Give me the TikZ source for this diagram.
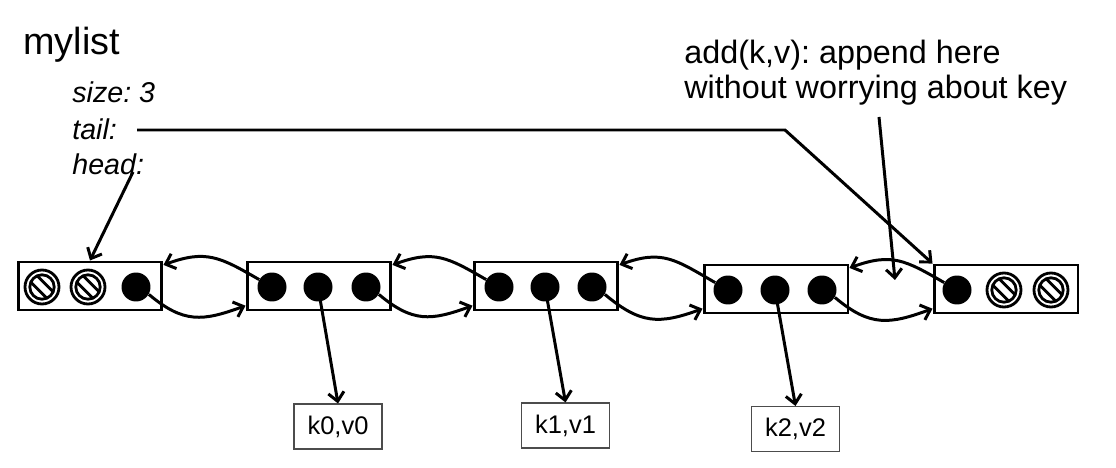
\documentclass[tikz,border=0pt]{standalone}
\usepackage{fontspec}
\setmainfont{Liberation Sans}
\usetikzlibrary{arrows.meta}
\frenchspacing

\begin{document}
\begin{tikzpicture}[x=0.02cm,y=0.02cm,
  cell/.style={draw,line width=1.7pt,minimum width=2.88cm,minimum height=0.96cm,inner sep=0pt},
  ptr/.style={circle,fill,inner sep=0pt,minimum size=0.58cm},
  kv/.style={draw=black!70,line width=0.6pt,minimum width=1.76cm,minimum height=0.9cm,font=\fontsize{14.5}{17}\selectfont},
  link/.style={line width=1.7pt,-{Straight Barb[length=5pt,width=9pt]}},
  lbl/.style={anchor=base west,inner sep=0pt,font=\fontsize{16.3}{20}\selectfont\itshape}]
  \useasboundingbox (0,0) rectangle (1116,467);
  % header
  \node[anchor=base west,inner sep=0pt,font=\fontsize{21.5}{26}\selectfont] (title) at (23,412) {mylist};
  \node[lbl] (sizel) at (72,364) {size: 3};
  \node[lbl] (taill) at (72,327) {tail:};
  \node[lbl] (headl) at (72,292) {head:};
  \node[anchor=north west,align=left,inner sep=0pt,font=\fontsize{18.4}{19.9}\selectfont] (note) at (684,427) {add(k,v): append here\\without worrying about key};
  % list cells
  \node[cell] (c0) at (90,181) {};
  \node[cell] (c1) at (319,181) {};
  \node[cell] (c2) at (546,181) {};
  \node[cell] (c3) at (776,178) {};
  \node[cell] (c4) at (1006,178) {};
  \node[ptr] (n0) at (136,180) {};
  \node[ptr] (p1) at (272,180) {};
  \node[ptr] (d1) at (318,180) {};
  \node[ptr] (n1) at (366,180) {};
  \node[ptr] (p2) at (499,180) {};
  \node[ptr] (d2) at (545,180) {};
  \node[ptr] (n2) at (592,180) {};
  \node[ptr] (p3) at (728,177) {};
  \node[ptr] (d3) at (775,177) {};
  \node[ptr] (n3) at (822,177) {};
  \node[ptr] (p4) at (957,177) {};
  % null slots
  \foreach \x/\y in {42/180,88/180,1004/177,1051/177} {
    \draw[line width=1.6pt] (\x,\y) circle (17);
    \draw[line width=1.6pt] (\x,\y) circle (12.2);
    \begin{scope}
      \clip (\x,\y) circle (12.2);
      \draw[line width=1.6pt] (\x-11.8,\y+18.2) -- (\x+18.2,\y-11.8);
      \draw[line width=1.6pt] (\x-18.2,\y+11.8) -- (\x+11.8,\y-18.2);
    \end{scope}
  }
  % key/value boxes
  \node[kv] (kv0) at (338,40.5) {k0,v0};
  \node[kv] (kv1) at (565.5,41.5) {k1,v1};
  \node[kv] (kv2) at (795.5,38) {k2,v2};
  % prev / next links
  \foreach \a/\b in {0/1,1/2,2/3,3/4} {
    \draw[link] (p\b.150) to[out=150,in=20,looseness=1.2] (c\a.16);
    \draw[link] (n\a.-30) to[out=-40,in=200,looseness=1.2] (c\b.195);
  }
  \foreach \i/\j in {1/0,2/1,3/2}
    \draw[link] (d\i.center) -- (kv\j.north);
  % head, tail, add
  \coordinate (hd) at (133,295);
  \draw[link] (hd) -- (c0.north);
  \coordinate (tl) at (137,337);
  \coordinate (tk) at (785,337);
  \draw[link] (tl) -- (tk) -- (c4.north west);
  \coordinate (ad) at (879,350);
  \coordinate (ae) at (895,187);
  \draw[link] (ad) -- (ae);
\end{tikzpicture}
\end{document}
